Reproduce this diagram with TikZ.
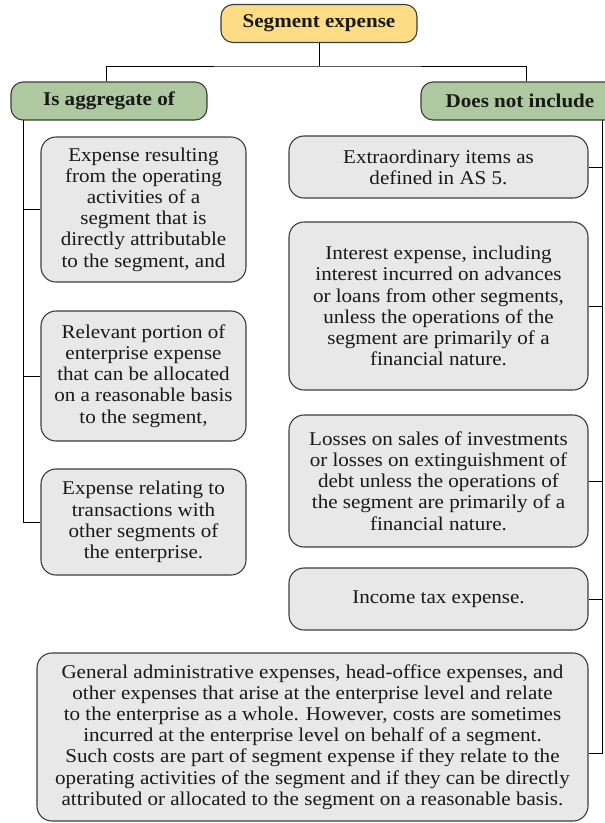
\documentclass[tikz,border=0pt]{standalone}
\usepackage{fontspec}
\setmainfont[FakeStretch=1.08]{Liberation Serif}
\usepackage{xcolor}
\definecolor{headyellow}{HTML}{FDDC86}
\definecolor{headgreen}{HTML}{AEC9A0}
\definecolor{itemgray}{HTML}{E8E8E8}
\definecolor{edgegray}{HTML}{3C3C3C}

\begin{document}
\begin{tikzpicture}[x=1pt,y=-1pt,
  txt/.style={font=\fontsize{19.5}{21.2}\selectfont, align=center, text=black!90},
  head/.style={txt, font=\fontsize{19.5}{21.2}\bfseries, draw=edgegray, line width=1.1pt, rounded corners=12pt, minimum height=38pt},
  item/.style={txt, draw=edgegray, fill=itemgray, line width=1.1pt, rounded corners=15pt, inner sep=0pt},
  link/.style={line width=0.8pt, black}]
\useasboundingbox (0,0) rectangle (605,823);
% Headings
\node[head, fill=headyellow, minimum width=196pt] (top) at (319,23.5) {Segment expense};
\node[head, fill=headgreen, minimum width=196pt] (agg) at (109,101) {Is aggregate of};
\node[head, fill=headgreen, minimum width=198pt] (dni) at (520,101) {Does not include};
\coordinate (split) at (319,66);
\draw[link] (top.south) -- (split);
\draw[link] ([xshift=-3pt]agg.north) |- (split) -| ([xshift=6pt]dni.north);
% Is aggregate of
\node[item, minimum width=205pt, minimum height=145pt] (l1) at (143.5,209.5)
  {Expense resulting\\from the operating\\activities of a\\segment that is\\directly attributable\\to the segment, and};
\node[item, minimum width=205pt, minimum height=130pt] (l2) at (143.5,376)
  {Relevant portion of\\enterprise expense\\that can be allocated\\on a reasonable basis\\to the segment,};
\node[item, minimum width=205pt, minimum height=106pt] (l3) at (143.5,522)
  {Expense relating to\\transactions with\\other segments of\\the enterprise.};
\coordinate (lt) at (23,120);
\draw[link] (lt) |- (l3.west);
\draw[link] (l1.west) -- (l1.west -| lt);
\draw[link] (l2.west) -- (l2.west -| lt);
% Does not include
\node[item, minimum width=299pt, minimum height=62pt] (r1) at (438.5,167)
  {Extraordinary items as\\defined in AS 5.};
\node[item, minimum width=299pt, minimum height=168pt] (r2) at (438.5,306)
  {Interest expense, including\\interest incurred on advances\\or loans from other segments,\\unless the operations of the\\segment are primarily of a\\financial nature.};
\node[item, minimum width=299pt, minimum height=132pt] (r3) at (438.5,481)
  {Losses on sales of investments\\or losses on extinguishment of\\debt unless the operations of\\the segment are primarily of a\\financial nature.};
\node[item, minimum width=299pt, minimum height=62pt] (r4) at (438.5,599)
  {Income tax expense.};
\node[item, minimum width=551pt, minimum height=168pt] (bot) at (312.5,737)
  {General administrative expenses, head-office expenses, and\\other expenses that arise at the enterprise level and relate\\to the enterprise as a whole. However, costs are sometimes\\incurred at the enterprise level on behalf of a segment.\\Such costs are part of segment expense if they relate to the\\operating activities of the segment and if they can be directly\\attributed or allocated to the segment on a reasonable basis.};
\coordinate (rt) at (602,120);
\draw[link] (rt) |- ([yshift=-16pt]bot.east);
\foreach \r in {r1,r2,r3,r4}
  \draw[link] (\r.east) -- (\r.east -| rt);
\end{tikzpicture}
\end{document}
